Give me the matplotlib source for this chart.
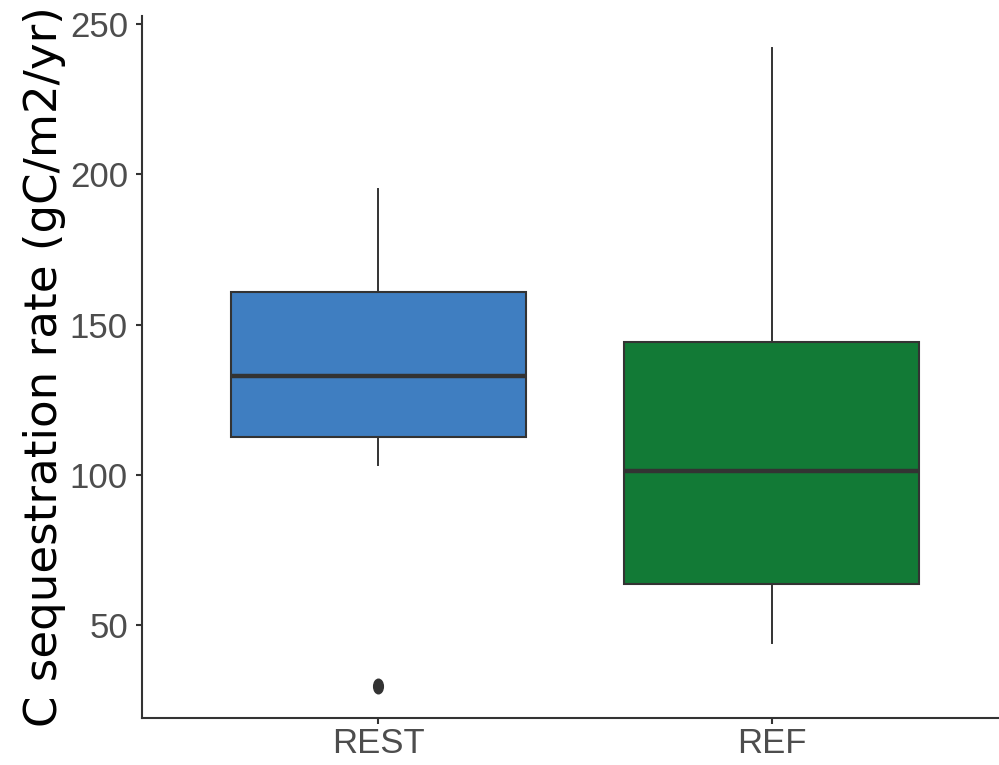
import matplotlib
matplotlib.use("Agg")
import matplotlib.pyplot as plt
from matplotlib.path import Path
from matplotlib.transforms import Affine2D

categories = ["REST", "REF"]
q1 = [112.7, 63.7]
median = [133.0, 101.3]
q3 = [161.0, 144.3]
whisker_low = [103.3, 44.0]
whisker_high = [195.0, 242.0]
outliers = [[29.8], []]
fill_colors = ["#3F7EC1", "#127A36"]
y_ticks = [50, 100, 150, 200, 250]

plt.rcParams['font.family'] = ['Liberation Sans', 'DejaVu Sans']

fig = plt.figure(figsize=(9.99, 7.65), dpi=100)
ax = fig.add_axes([142/999, 1 - 718/765, (1008 - 142)/999, (718 - 16)/765])

stats = []
for i, c in enumerate(categories):
    stats.append(dict(label=c, q1=q1[i], med=median[i], q3=q3[i],
                      whislo=whisker_low[i], whishi=whisker_high[i], fliers=outliers[i]))

ellipse = Path.unit_circle().transformed(Affine2D().scale(1.0, 1.5))

edge = "#333333"
bp = ax.bxp(stats, positions=[1, 2], widths=0.75, patch_artist=True, showcaps=False,
            boxprops=dict(edgecolor=edge, linewidth=1.5),
            medianprops=dict(color=edge, linewidth=3.2, solid_capstyle='butt'),
            whiskerprops=dict(color=edge, linewidth=1.4),
            flierprops=dict(marker=ellipse, markerfacecolor=edge, markeredgecolor=edge,
                            markersize=10.5))
for patch, col in zip(bp['boxes'], fill_colors):
    patch.set_facecolor(col)

ax.set_xlim(0.4, 2.6)
lo = 29.8; hi = 242.0
pad = (hi - lo) * 0.05
ax.set_ylim(lo - pad, hi + pad)
ax.set_yticks(y_ticks)
ax.set_xticks([1, 2])
ax.set_xticklabels(categories)

for s in ['top', 'right']:
    ax.spines[s].set_visible(False)
for s in ['left', 'bottom']:
    ax.spines[s].set_linewidth(1.5)
    ax.spines[s].set_color('#333333')
ax.tick_params(axis='both', length=4.3, width=1.5, color='#333333', labelcolor='#4D4D4D',
               labelsize=25)
ax.tick_params(axis='y', pad=5.8)
ax.tick_params(axis='x', pad=2)
ax.set_ylabel("C sequestration rate (gC/m2/yr)", fontsize=32.5, color='black', labelpad=3,
              family=['DejaVu Sans'])

fig.savefig("out.png", dpi=100)
